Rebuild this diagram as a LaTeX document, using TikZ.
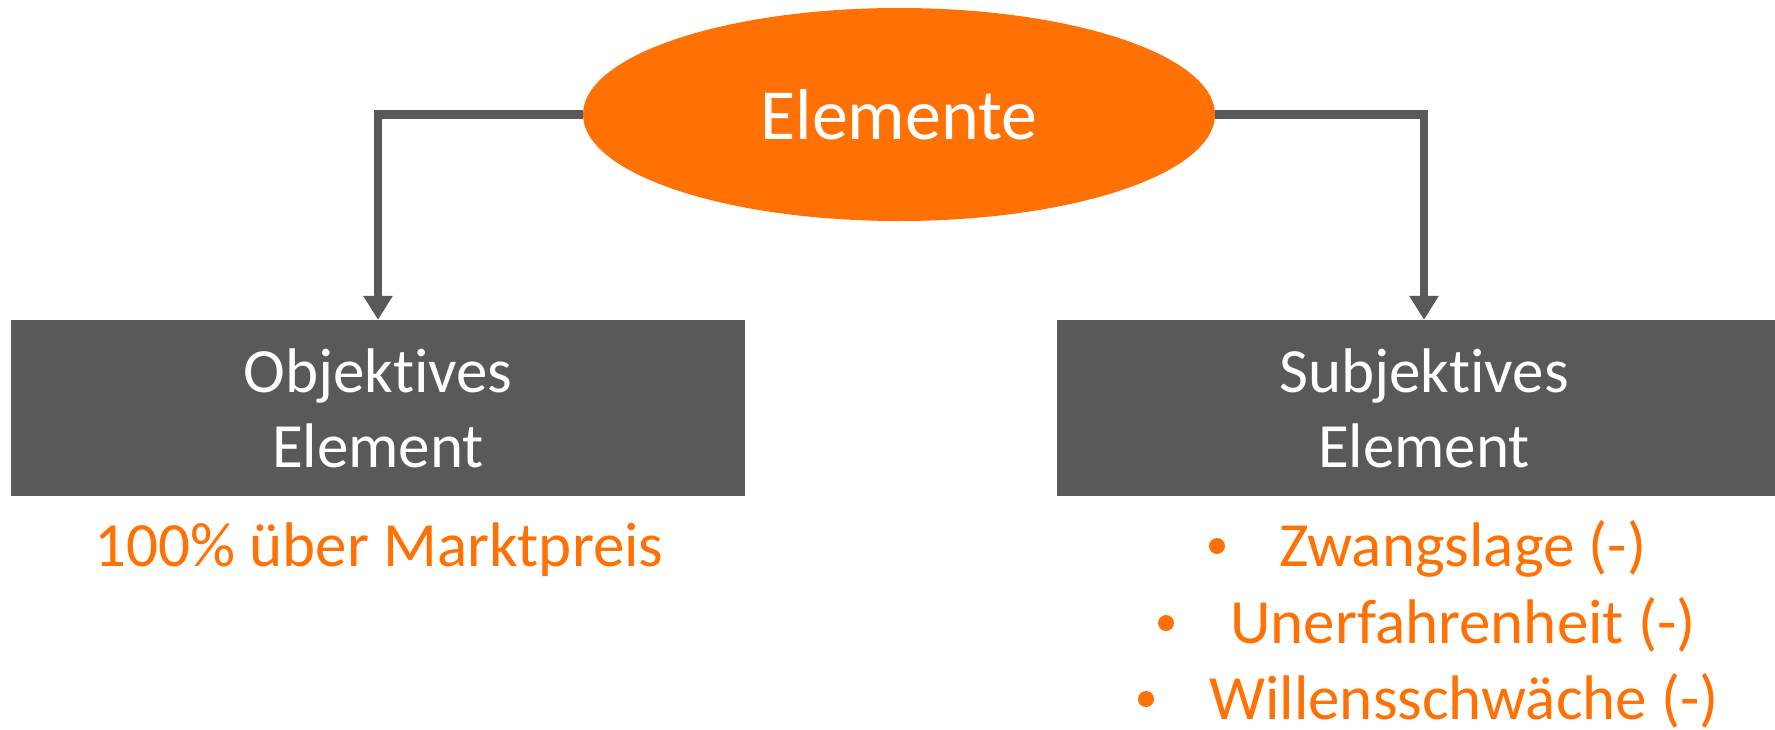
\documentclass[tikz,border=0pt]{standalone}
\usepackage{fontspec}
\setmainfont{Carlito}[Ligatures=NoCommon]
\usetikzlibrary{shapes.geometric,arrows.meta}
\definecolor{accent}{RGB}{255,113,5}
\definecolor{slate}{RGB}{89,89,89}
\tikzset{
  bigtext/.style={font=\fontsize{63}{75}\selectfont},
  headnode/.style={ellipse, fill=accent, draw=none, inner sep=0pt,
    minimum width=632pt, minimum height=213pt, text=white,
    font=\fontsize{72}{80}\selectfont},
  catbox/.style={rectangle, fill=slate, draw=none, inner sep=0pt,
    minimum width=734pt, minimum height=176pt, text=white, align=center,
    bigtext},
  linkline/.style={draw=slate, line width=8.5pt,
    -{Triangle[width=28pt,length=24pt]}},
  notetext/.style={text=accent, bigtext, anchor=base, inner sep=0pt},
  dot/.style={circle, fill=accent, inner sep=0pt, minimum size=16pt},
}
\begin{document}
\begin{tikzpicture}[x=1pt,y=-1pt]
  \useasboundingbox (0,0) rectangle (1775,729);
  \clip (0,0) rectangle (1775,729);

  % top concept
  \node[headnode] (head) at (899,114.5) {Elemente};

  % the two categories
  \node[catbox] (obj) at (378,408) {Objektives\\Element};
  \node[catbox] (subj) at (1424,408) {Subjektives\\Element};

  % connectors
  \coordinate (lbend) at (378,114.5);
  \coordinate (rbend) at (1424,114.5);
  \draw[linkline] (head.west) -- (lbend) -- (obj.north);
  \draw[linkline] (head.east) -- (rbend) -- (subj.north);

  % notes below the categories
  \node[notetext] (objnote) at (379,566) {100\% über Marktpreis};

  \node[notetext, anchor=base west] (s1) at (1279,566) {Zwangslage (-)};
  \node[notetext, anchor=base west] (s2) at (1230,643) {Unerfahrenheit (-)};
  \node[notetext, anchor=base west] (s3) at (1209,719) {Willensschwäche (-)};
  \node[dot] (b1) at (1217,546) {};
  \node[dot] (b2) at (1166,623) {};
  \node[dot] (b3) at (1146,699) {};
\end{tikzpicture}
\end{document}
